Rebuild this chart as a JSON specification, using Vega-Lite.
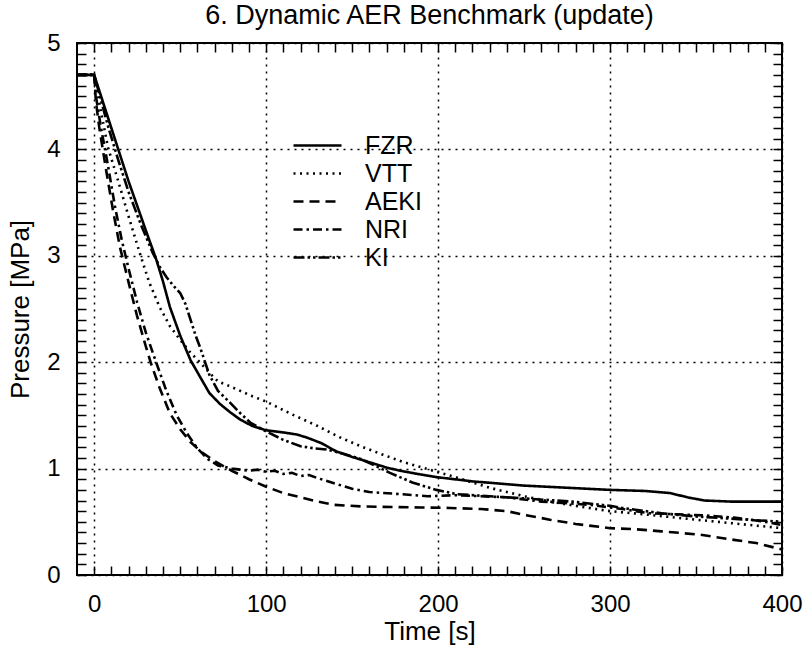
{
  "$schema": "https://vega.github.io/schema/vega-lite/v6.json",
  "width": 705,
  "height": 532,
  "autosize": {"type": "none"},
  "padding": {"left": 77, "top": 43, "right": 29, "bottom": 75},
  "background": "white",
  "title": {"text": "6. Dynamic AER Benchmark (update)", "fontSize": 27, "font": "Liberation Sans", "fontWeight": "normal", "color": "black", "offset": 1},
  "config": {"view": {"stroke": "black", "strokeWidth": 2}, "font": "Liberation Sans"},
  "data": {"values": [
    {"c":"FZR","t":-10,"p":4.7},{"c":"FZR","t":0,"p":4.7},{"c":"FZR","t":4,"p":4.5},{"c":"FZR","t":8,"p":4.3},{"c":"FZR","t":14,"p":4.0},{"c":"FZR","t":20,"p":3.7},{"c":"FZR","t":25,"p":3.47},{"c":"FZR","t":30,"p":3.24},{"c":"FZR","t":36,"p":2.97},{"c":"FZR","t":40,"p":2.76},{"c":"FZR","t":44,"p":2.52},{"c":"FZR","t":50,"p":2.25},{"c":"FZR","t":56,"p":2.02},{"c":"FZR","t":62,"p":1.85},{"c":"FZR","t":67,"p":1.71},{"c":"FZR","t":73,"p":1.61},{"c":"FZR","t":79,"p":1.53},{"c":"FZR","t":85,"p":1.46},{"c":"FZR","t":92,"p":1.4},{"c":"FZR","t":100,"p":1.36},{"c":"FZR","t":110,"p":1.34},{"c":"FZR","t":118,"p":1.32},{"c":"FZR","t":124,"p":1.29},{"c":"FZR","t":132,"p":1.24},{"c":"FZR","t":141,"p":1.16},{"c":"FZR","t":150,"p":1.11},{"c":"FZR","t":160,"p":1.06},{"c":"FZR","t":170,"p":1.01},{"c":"FZR","t":178,"p":0.98},{"c":"FZR","t":188,"p":0.95},{"c":"FZR","t":199,"p":0.92},{"c":"FZR","t":220,"p":0.88},{"c":"FZR","t":250,"p":0.84},{"c":"FZR","t":275,"p":0.82},{"c":"FZR","t":300,"p":0.8},{"c":"FZR","t":320,"p":0.79},{"c":"FZR","t":335,"p":0.77},{"c":"FZR","t":345,"p":0.73},{"c":"FZR","t":355,"p":0.7},{"c":"FZR","t":370,"p":0.69},{"c":"FZR","t":400,"p":0.69},
    {"c":"VTT","t":-10,"p":4.7},{"c":"VTT","t":0,"p":4.7},{"c":"VTT","t":4,"p":4.35},{"c":"VTT","t":8,"p":4.02},{"c":"VTT","t":14,"p":3.7},{"c":"VTT","t":20,"p":3.37},{"c":"VTT","t":27,"p":3.0},{"c":"VTT","t":32,"p":2.75},{"c":"VTT","t":38,"p":2.52},{"c":"VTT","t":44,"p":2.34},{"c":"VTT","t":50,"p":2.21},{"c":"VTT","t":56,"p":2.09},{"c":"VTT","t":62,"p":1.99},{"c":"VTT","t":67,"p":1.9},{"c":"VTT","t":72,"p":1.82},{"c":"VTT","t":78,"p":1.78},{"c":"VTT","t":85,"p":1.73},{"c":"VTT","t":92,"p":1.68},{"c":"VTT","t":100,"p":1.63},{"c":"VTT","t":115,"p":1.51},{"c":"VTT","t":130,"p":1.4},{"c":"VTT","t":142,"p":1.3},{"c":"VTT","t":155,"p":1.21},{"c":"VTT","t":168,"p":1.13},{"c":"VTT","t":180,"p":1.06},{"c":"VTT","t":195,"p":0.99},{"c":"VTT","t":210,"p":0.92},{"c":"VTT","t":230,"p":0.82},{"c":"VTT","t":250,"p":0.74},{"c":"VTT","t":265,"p":0.69},{"c":"VTT","t":280,"p":0.65},{"c":"VTT","t":300,"p":0.6},{"c":"VTT","t":320,"p":0.57},{"c":"VTT","t":350,"p":0.52},{"c":"VTT","t":375,"p":0.48},{"c":"VTT","t":400,"p":0.44},
    {"c":"AEKI","t":-10,"p":4.7},{"c":"AEKI","t":0,"p":4.7},{"c":"AEKI","t":1,"p":4.45},{"c":"AEKI","t":3,"p":4.2},{"c":"AEKI","t":7,"p":3.8},{"c":"AEKI","t":11,"p":3.42},{"c":"AEKI","t":15,"p":3.08},{"c":"AEKI","t":20,"p":2.75},{"c":"AEKI","t":25,"p":2.43},{"c":"AEKI","t":30,"p":2.15},{"c":"AEKI","t":33,"p":1.99},{"c":"AEKI","t":38,"p":1.76},{"c":"AEKI","t":44,"p":1.52},{"c":"AEKI","t":50,"p":1.37},{"c":"AEKI","t":56,"p":1.25},{"c":"AEKI","t":62,"p":1.16},{"c":"AEKI","t":70,"p":1.07},{"c":"AEKI","t":80,"p":0.98},{"c":"AEKI","t":90,"p":0.9},{"c":"AEKI","t":100,"p":0.83},{"c":"AEKI","t":110,"p":0.77},{"c":"AEKI","t":120,"p":0.73},{"c":"AEKI","t":130,"p":0.69},{"c":"AEKI","t":139,"p":0.66},{"c":"AEKI","t":155,"p":0.645},{"c":"AEKI","t":168,"p":0.64},{"c":"AEKI","t":190,"p":0.635},{"c":"AEKI","t":207,"p":0.63},{"c":"AEKI","t":225,"p":0.62},{"c":"AEKI","t":240,"p":0.6},{"c":"AEKI","t":252,"p":0.56},{"c":"AEKI","t":265,"p":0.52},{"c":"AEKI","t":280,"p":0.48},{"c":"AEKI","t":300,"p":0.44},{"c":"AEKI","t":315,"p":0.43},{"c":"AEKI","t":330,"p":0.41},{"c":"AEKI","t":352,"p":0.38},{"c":"AEKI","t":372,"p":0.33},{"c":"AEKI","t":385,"p":0.3},{"c":"AEKI","t":400,"p":0.24},
    {"c":"NRI","t":-10,"p":4.7},{"c":"NRI","t":0,"p":4.7},{"c":"NRI","t":1,"p":4.5},{"c":"NRI","t":4,"p":4.2},{"c":"NRI","t":8,"p":3.85},{"c":"NRI","t":12,"p":3.47},{"c":"NRI","t":16,"p":3.15},{"c":"NRI","t":20,"p":2.88},{"c":"NRI","t":25,"p":2.56},{"c":"NRI","t":30,"p":2.28},{"c":"NRI","t":36,"p":2.0},{"c":"NRI","t":42,"p":1.73},{"c":"NRI","t":48,"p":1.5},{"c":"NRI","t":54,"p":1.33},{"c":"NRI","t":60,"p":1.19},{"c":"NRI","t":66,"p":1.09},{"c":"NRI","t":72,"p":1.03},{"c":"NRI","t":80,"p":1.0},{"c":"NRI","t":85,"p":0.99},{"c":"NRI","t":90,"p":0.98},{"c":"NRI","t":95,"p":0.99},{"c":"NRI","t":100,"p":0.97},{"c":"NRI","t":105,"p":0.98},{"c":"NRI","t":110,"p":0.95},{"c":"NRI","t":115,"p":0.96},{"c":"NRI","t":120,"p":0.93},{"c":"NRI","t":125,"p":0.94},{"c":"NRI","t":130,"p":0.91},{"c":"NRI","t":140,"p":0.86},{"c":"NRI","t":150,"p":0.81},{"c":"NRI","t":160,"p":0.78},{"c":"NRI","t":178,"p":0.76},{"c":"NRI","t":194,"p":0.74},{"c":"NRI","t":210,"p":0.75},{"c":"NRI","t":225,"p":0.74},{"c":"NRI","t":240,"p":0.73},{"c":"NRI","t":260,"p":0.69},{"c":"NRI","t":288,"p":0.66},{"c":"NRI","t":307,"p":0.62},{"c":"NRI","t":323,"p":0.58},{"c":"NRI","t":340,"p":0.57},{"c":"NRI","t":355,"p":0.56},{"c":"NRI","t":372,"p":0.54},{"c":"NRI","t":390,"p":0.5},{"c":"NRI","t":400,"p":0.47},
    {"c":"KI","t":-10,"p":4.7},{"c":"KI","t":0,"p":4.7},{"c":"KI","t":3,"p":4.52},{"c":"KI","t":8,"p":4.22},{"c":"KI","t":14,"p":3.9},{"c":"KI","t":20,"p":3.6},{"c":"KI","t":27,"p":3.3},{"c":"KI","t":34,"p":3.03},{"c":"KI","t":38,"p":2.9},{"c":"KI","t":42,"p":2.8},{"c":"KI","t":46,"p":2.72},{"c":"KI","t":50,"p":2.65},{"c":"KI","t":53,"p":2.55},{"c":"KI","t":56,"p":2.4},{"c":"KI","t":59,"p":2.25},{"c":"KI","t":62,"p":2.12},{"c":"KI","t":67,"p":1.88},{"c":"KI","t":72,"p":1.73},{"c":"KI","t":79,"p":1.62},{"c":"KI","t":85,"p":1.52},{"c":"KI","t":91,"p":1.43},{"c":"KI","t":100,"p":1.35},{"c":"KI","t":110,"p":1.27},{"c":"KI","t":120,"p":1.21},{"c":"KI","t":128,"p":1.19},{"c":"KI","t":135,"p":1.18},{"c":"KI","t":145,"p":1.14},{"c":"KI","t":155,"p":1.09},{"c":"KI","t":163,"p":1.03},{"c":"KI","t":172,"p":0.96},{"c":"KI","t":185,"p":0.87},{"c":"KI","t":199,"p":0.8},{"c":"KI","t":211,"p":0.76},{"c":"KI","t":230,"p":0.74},{"c":"KI","t":250,"p":0.72},{"c":"KI","t":278,"p":0.69},{"c":"KI","t":300,"p":0.65},{"c":"KI","t":307,"p":0.63},{"c":"KI","t":330,"p":0.58},{"c":"KI","t":350,"p":0.55},{"c":"KI","t":370,"p":0.53},{"c":"KI","t":400,"p":0.5}
  ]},
  "layer": [
    {
      "mark": {"type": "line", "color": "black", "strokeWidth": 2.6, "clip": true},
      "encoding": {
        "x": {"field": "t", "type": "quantitative",
          "scale": {"domain": [-10, 400], "nice": false, "zero": false},
          "axis": {"orient": "bottom", "offset": -9,
            "values": [0,10,20,30,40,50,60,70,80,90,100,110,120,130,140,150,160,170,180,190,200,210,220,230,240,250,260,270,280,290,300,310,320,330,340,350,360,370,380,390,400],
            "ticks": true, "tickSize": 9,
            "tickColor": "black", "tickWidth": 1.5, "domain": false,
            "grid": true, "gridColor": "black", "gridDash": [2, 5], "gridWidth": 1.5,
            "gridOpacity": {"condition": {"test": "datum.value % 100 === 0", "value": 1}, "value": 0},
            "labelExpr": "datum.value % 100 === 0 ? format(datum.value, 'd') : ''",
            "labelFontSize": 24, "labelColor": "black", "labelPadding": 17, "labelFlush": false, "labelOverlap": false,
            "title": "Time [s]", "titleFontSize": 26, "titleFontWeight": "normal", "titleColor": "black", "titlePadding": 2}},
        "y": {"field": "p", "type": "quantitative",
          "scale": {"domain": [0, 5], "nice": false},
          "axis": {"orient": "left", "offset": -9,
            "values": [0,0.1,0.2,0.3,0.4,0.5,0.6,0.7,0.8,0.9,1,1.1,1.2,1.3,1.4,1.5,1.6,1.7,1.8,1.9,2,2.1,2.2,2.3,2.4,2.5,2.6,2.7,2.8,2.9,3,3.1,3.2,3.3,3.4,3.5,3.6,3.7,3.8,3.9,4,4.1,4.2,4.3,4.4,4.5,4.6,4.7,4.8,4.9,5],
            "ticks": true, "tickSize": 9,
            "tickColor": "black", "tickWidth": 1.5, "domain": false,
            "grid": true, "gridColor": "black", "gridDash": [2, 5], "gridWidth": 1.5,
            "gridOpacity": {"condition": {"test": "datum.value % 1 === 0", "value": 1}, "value": 0},
            "labelExpr": "datum.value % 1 === 0 ? format(datum.value, 'd') : ''",
            "labelFontSize": 24, "labelColor": "black", "labelPadding": 17, "labelOverlap": false, "labelFlush": false,
            "title": "Pressure [MPa]", "titleFontSize": 26, "titleFontWeight": "normal", "titleColor": "black", "titlePadding": 13}},
        "strokeDash": {"field": "c", "type": "nominal",
          "scale": {"domain": ["FZR", "VTT", "AEKI", "NRI", "KI"], "range": [[1, 0], [2, 4.5], [10, 6], [9, 4, 2.5, 4], [11, 3, 2.5, 3, 2.5, 3]]},
          "legend": {"orient": "none", "legendX": 227, "legendY": 89, "title": null,
            "symbolType": "M-2,0H2", "symbolSize": 576, "symbolStrokeWidth": 2.5, "symbolStrokeColor": "black",
            "labelFontSize": 25, "labelColor": "black", "labelOffset": 34, "rowPadding": 1}}
      }
    },
    {
      "mark": {"type": "line", "opacity": 0},
      "encoding": {
        "x": {"field": "t", "type": "quantitative",
          "axis": {"orient": "top", "offset": -9,
            "values": [0,10,20,30,40,50,60,70,80,90,100,110,120,130,140,150,160,170,180,190,200,210,220,230,240,250,260,270,280,290,300,310,320,330,340,350,360,370,380,390,400],
            "ticks": true, "tickSize": 9,
            "tickColor": "black", "tickWidth": 1.5, "domain": false, "grid": false, "labels": false, "title": null}},
        "y": {"field": "p", "type": "quantitative",
          "axis": {"orient": "right", "offset": -9,
            "values": [0,0.1,0.2,0.3,0.4,0.5,0.6,0.7,0.8,0.9,1,1.1,1.2,1.3,1.4,1.5,1.6,1.7,1.8,1.9,2,2.1,2.2,2.3,2.4,2.5,2.6,2.7,2.8,2.9,3,3.1,3.2,3.3,3.4,3.5,3.6,3.7,3.8,3.9,4,4.1,4.2,4.3,4.4,4.5,4.6,4.7,4.8,4.9,5],
            "ticks": true, "tickSize": 9,
            "tickColor": "black", "tickWidth": 1.5, "domain": false, "grid": false, "labels": false, "title": null}},
        "detail": {"field": "c", "type": "nominal"}
      }
    }
  ],
  "resolve": {"axis": {"x": "independent", "y": "independent"}}
}
